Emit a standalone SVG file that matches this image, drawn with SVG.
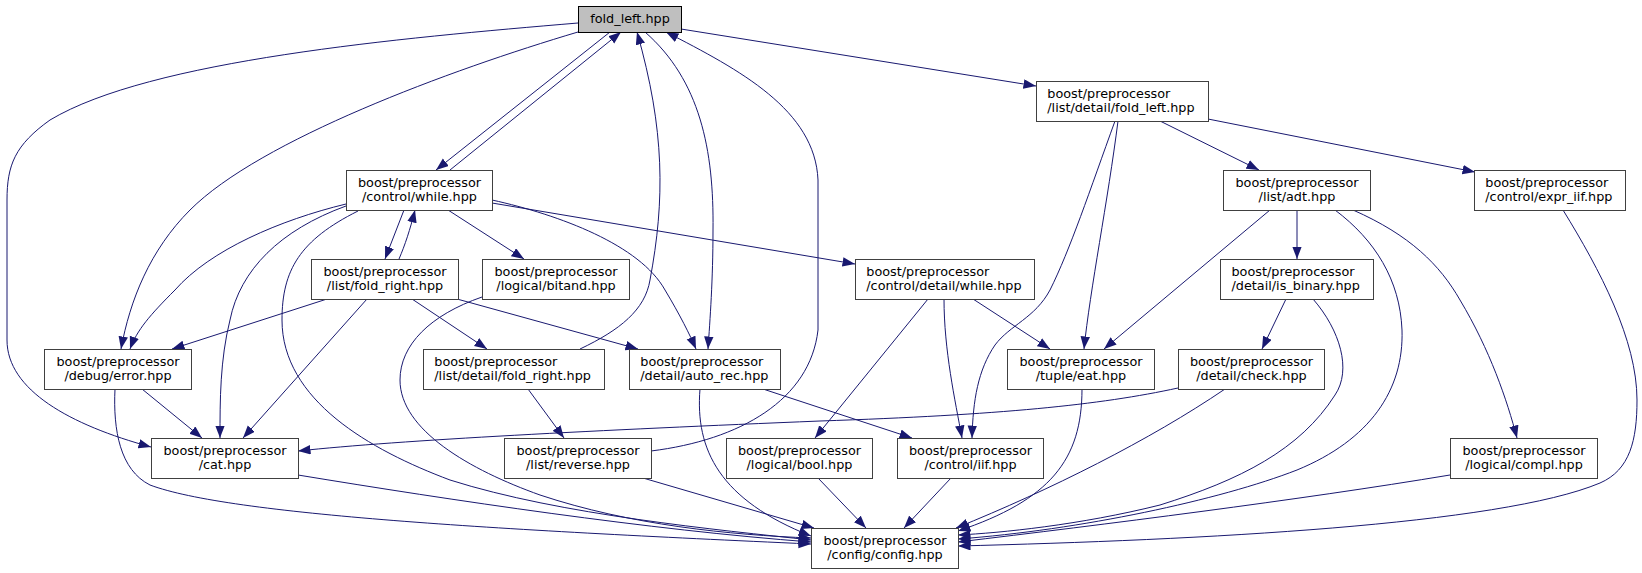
<svg xmlns="http://www.w3.org/2000/svg" width="1642" height="573" viewBox="0 0 1642 573">
<defs>
<marker id="arr" markerWidth="13" markerHeight="10" refX="12.5" refY="4.75" orient="auto" markerUnits="userSpaceOnUse">
<path d="M0,0 L12.5,4.75 L0,9.5 z" fill="#191970"/>
</marker>
<style>
.edge{fill:none;stroke:#191970;stroke-width:1;marker-end:url(#arr)}
.node rect{fill:#ffffff;stroke:#404040;stroke-width:1}
.main rect{fill:#bfbfbf;stroke:#000000}
text{font-family:"DejaVu Sans","Liberation Sans",sans-serif;font-size:12.8px;fill:#000000}
.c{text-anchor:middle}
</style>
</defs>
<rect width="1642" height="573" fill="#ffffff"/>
<g id="edges">
<path class="edge" d="M578,23 C400,38 150,60 50,120 C15,145 7,165 7,200 L7,340 C7,390 70,425 151,447"/>
<path class="edge" d="M578,32 C450,70 260,140 190,210 C150,250 130,300 121,349"/>
<path class="edge" d="M610,32 L436,170"/>
<path class="edge" d="M450,170 L621,32"/>
<path class="edge" d="M580,349 C620,330 645,310 650,280 C665,200 665,130 637,32"/>
<path class="edge" d="M645,32 C700,80 714,150 713,230 C713,280 710,320 708,349"/>
<path class="edge" d="M651,451 C740,440 810,400 818,330 L818,180 C815,110 740,70 666,32"/>
<path class="edge" d="M681,29 L1036,86"/>
<path class="edge" d="M492,200 C560,215 640,245 665,290 C680,315 690,335 696,349"/>
<path class="edge" d="M492,203 L855,264"/>
<path class="edge" d="M448,210 L524,259"/>
<path class="edge" d="M404,210 L385,259"/>
<path class="edge" d="M399,259 C405,245 410,230 415,210"/>
<path class="edge" d="M346,204 C280,220 210,250 175,290 C150,315 137,330 130,349"/>
<path class="edge" d="M346,206 C280,230 240,270 230,320 C220,360 220,400 220,438"/>
<path class="edge" d="M358,211 C300,240 282,270 282,320 C282,400 370,450 450,480 C560,515 720,530 811,540"/>
<path class="edge" d="M327,299 L172,349"/>
<path class="edge" d="M367,299 L243,438"/>
<path class="edge" d="M412,299 L487,349"/>
<path class="edge" d="M457,299 L638,349"/>
<path class="edge" d="M482,297 C430,315 400,345 400,380 C400,430 470,470 540,495 C630,525 730,535 811,538"/>
<path class="edge" d="M528,389 L564,438"/>
<path class="edge" d="M142,389 L202,438"/>
<path class="edge" d="M115,389 C113,430 120,470 150,485 C230,515 500,530 811,544"/>
<path class="edge" d="M298,475 C450,500 650,530 811,542"/>
<path class="edge" d="M700,389 C695,450 720,500 811,536"/>
<path class="edge" d="M643,478 L814,528"/>
<path class="edge" d="M818,478 L866,528"/>
<path class="edge" d="M951,478 L904,528"/>
<path class="edge" d="M1082,389 C1082,460 1050,500 958,531"/>
<path class="edge" d="M1225,389 C1150,440 1050,490 956,528"/>
<path class="edge" d="M1313,299 C1340,330 1352,370 1335,395 C1300,450 1240,480 1160,505 C1080,525 1000,533 958,535"/>
<path class="edge" d="M1335,210 C1375,240 1400,280 1402,330 C1404,390 1370,440 1297,470 C1220,500 1080,530 958,539"/>
<path class="edge" d="M1450,475 C1300,500 1100,525 958,542"/>
<path class="edge" d="M1563,210 C1600,270 1637,340 1637,400 C1637,440 1630,470 1600,483 C1500,525 1200,540 958,546"/>
<path class="edge" d="M1160,121 L1259,170"/>
<path class="edge" d="M1208,119 L1475,172"/>
<path class="edge" d="M1118,121 C1108,200 1090,290 1084,349"/>
<path class="edge" d="M1115,121 C1090,190 1070,250 1050,290 C1035,318 1010,325 995,345 C978,370 973,400 972,438"/>
<path class="edge" d="M973,299 L1050,349"/>
<path class="edge" d="M944,299 C944,350 955,400 962,438"/>
<path class="edge" d="M928,299 L815,438"/>
<path class="edge" d="M763,389 L912,438"/>
<path class="edge" d="M1270,210 L1104,349"/>
<path class="edge" d="M1297,210 L1297,259"/>
<path class="edge" d="M1353,210 C1410,235 1440,265 1460,300 C1490,350 1507,400 1517,438"/>
<path class="edge" d="M1286,299 L1262,349"/>
<path class="edge" d="M1178,388 C1100,405 1000,415 820,421 C600,430 400,440 298,451"/>
</g>
<g id="n-fold_left" class="node main"><rect x="578.5" y="6.5" width="103" height="26"/><text class="c" x="630" y="22.8">fold_left.hpp</text></g>
<g id="n-ld_fold_left" class="node"><rect x="1036.5" y="81.5" width="172" height="40"/><text x="1047.3" y="97.8">boost/preprocessor</text><text x="1047.3" y="111.5">/list/detail/fold_left.hpp</text></g>
<g id="n-while" class="node"><rect x="346.5" y="170.5" width="146" height="40"/><text class="c" x="419.5" y="186.8">boost/preprocessor</text><text class="c" x="419.5" y="200.5">/control/while.hpp</text></g>
<g id="n-adt" class="node"><rect x="1223.5" y="170.5" width="147" height="40"/><text class="c" x="1297" y="186.8">boost/preprocessor</text><text class="c" x="1297" y="200.5">/list/adt.hpp</text></g>
<g id="n-expr_iif" class="node"><rect x="1474.5" y="170.5" width="151" height="40"/><text x="1485.3" y="186.8">boost/preprocessor</text><text x="1485.3" y="200.5">/control/expr_iif.hpp</text></g>
<g id="n-fold_right" class="node"><rect x="311.5" y="259.5" width="147" height="40"/><text class="c" x="385" y="275.8">boost/preprocessor</text><text class="c" x="385" y="289.5">/list/fold_right.hpp</text></g>
<g id="n-bitand" class="node"><rect x="482.5" y="259.5" width="147" height="40"/><text class="c" x="556" y="275.8">boost/preprocessor</text><text class="c" x="556" y="289.5">/logical/bitand.hpp</text></g>
<g id="n-cd_while" class="node"><rect x="855.5" y="259.5" width="179" height="40"/><text x="866.3" y="275.8">boost/preprocessor</text><text x="866.3" y="289.5">/control/detail/while.hpp</text></g>
<g id="n-is_binary" class="node"><rect x="1220.5" y="259.5" width="153" height="40"/><text x="1231.5" y="275.8">boost/preprocessor</text><text x="1231.5" y="289.5">/detail/is_binary.hpp</text></g>
<g id="n-error" class="node"><rect x="44.5" y="349.5" width="147" height="40"/><text class="c" x="118" y="365.8">boost/preprocessor</text><text class="c" x="118" y="379.5">/debug/error.hpp</text></g>
<g id="n-ld_fold_right" class="node"><rect x="423.5" y="349.5" width="181" height="40"/><text x="434.3" y="365.8">boost/preprocessor</text><text x="434.3" y="379.5">/list/detail/fold_right.hpp</text></g>
<g id="n-auto_rec" class="node"><rect x="629.5" y="349.5" width="151" height="40"/><text x="640.3" y="365.8">boost/preprocessor</text><text x="640.3" y="379.5">/detail/auto_rec.hpp</text></g>
<g id="n-eat" class="node"><rect x="1007.5" y="349.5" width="147" height="40"/><text class="c" x="1081" y="365.8">boost/preprocessor</text><text class="c" x="1081" y="379.5">/tuple/eat.hpp</text></g>
<g id="n-check" class="node"><rect x="1178.5" y="349.5" width="146" height="40"/><text class="c" x="1251.5" y="365.8">boost/preprocessor</text><text class="c" x="1251.5" y="379.5">/detail/check.hpp</text></g>
<g id="n-cat" class="node"><rect x="151.5" y="438.5" width="147" height="40"/><text class="c" x="225" y="454.8">boost/preprocessor</text><text class="c" x="225" y="468.5">/cat.hpp</text></g>
<g id="n-reverse" class="node"><rect x="504.5" y="438.5" width="147" height="40"/><text class="c" x="578" y="454.8">boost/preprocessor</text><text class="c" x="578" y="468.5">/list/reverse.hpp</text></g>
<g id="n-bool" class="node"><rect x="726.5" y="438.5" width="146" height="40"/><text class="c" x="799.5" y="454.8">boost/preprocessor</text><text class="c" x="799.5" y="468.5">/logical/bool.hpp</text></g>
<g id="n-iif" class="node"><rect x="897.5" y="438.5" width="146" height="40"/><text class="c" x="970.5" y="454.8">boost/preprocessor</text><text class="c" x="970.5" y="468.5">/control/iif.hpp</text></g>
<g id="n-compl" class="node"><rect x="1450.5" y="438.5" width="147" height="40"/><text class="c" x="1524" y="454.8">boost/preprocessor</text><text class="c" x="1524" y="468.5">/logical/compl.hpp</text></g>
<g id="n-config" class="node"><rect x="811.5" y="528.5" width="147" height="40"/><text class="c" x="885" y="544.8">boost/preprocessor</text><text class="c" x="885" y="558.5">/config/config.hpp</text></g>
</svg>
